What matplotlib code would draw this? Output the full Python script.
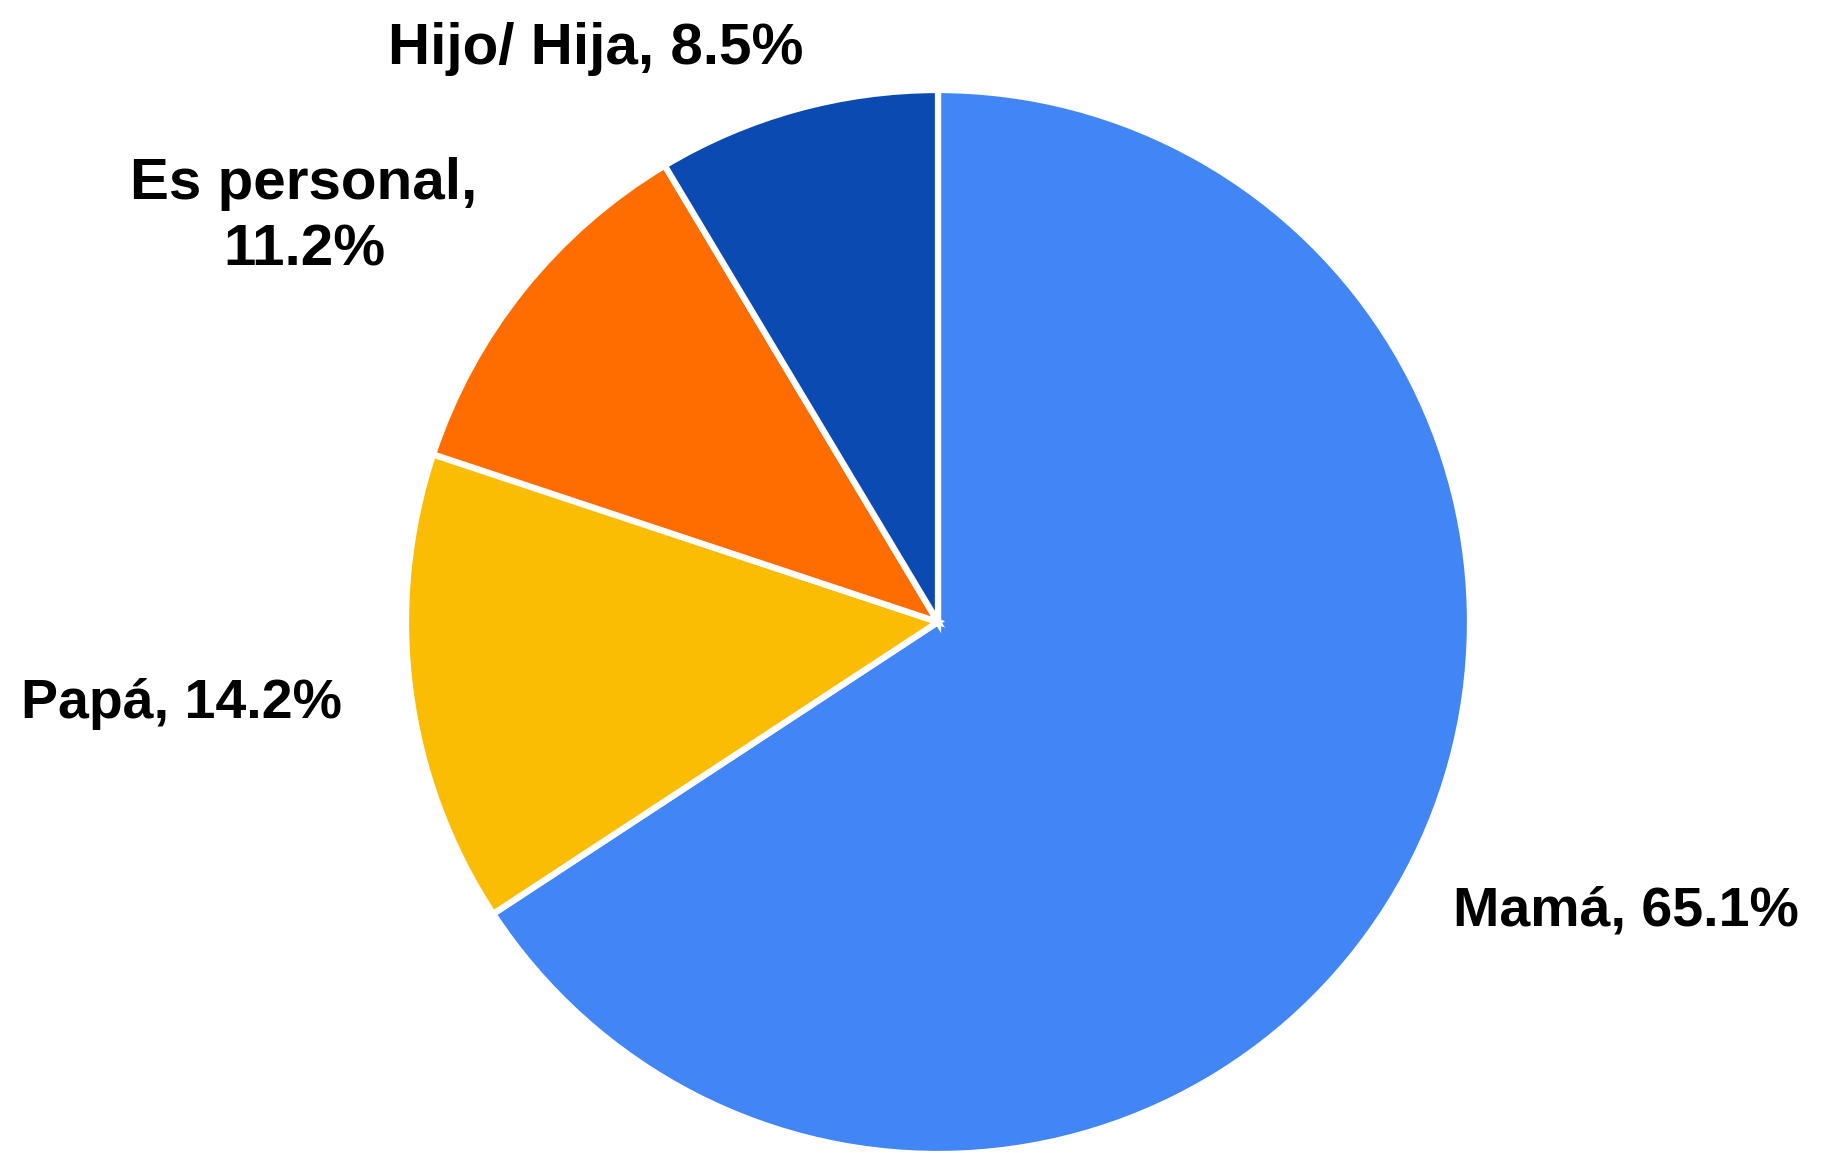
import matplotlib
matplotlib.use("Agg")
import matplotlib.pyplot as plt

# Chart data
categories = ["Mamá", "Papá", "Es personal", "Hijo/ Hija"]
values = [65.1, 14.2, 11.2, 8.5]
colors = ["#4285F4", "#FBBC04", "#FF6D01", "#0B4AB0"]

W, H = 1825, 1153
fig = plt.figure(figsize=(W / 100, H / 100), dpi=100)
ax = fig.add_axes([0, 0, 1, 1])

ax.pie(values, colors=colors, startangle=90, counterclock=False,
       center=(938, H - 622), radius=532, frame=True,
       wedgeprops=dict(edgecolor="white", linewidth=4.5))
ax.set_xlim(0, W)
ax.set_ylim(0, H)
ax.set_aspect("equal")
ax.axis("off")

normal = dict(fontsize=40, fontweight="bold", family=["Liberation Sans", "DejaVu Sans"],
              color="black", va="center")
narrow = dict(fontsize=42, fontweight="bold",
              family=["Liberation Sans Narrow", "Liberation Sans", "DejaVu Sans"],
              color="black", va="center", ha="center")

ax.text(1453, H - 912, f"{categories[0]}, {values[0]}%", ha="left", **normal)
ax.text(21, H - 704, f"{categories[1]}, {values[1]}%", ha="left", **normal)
ax.text(304, H - 217, f"{categories[2]},\n{values[2]}%", linespacing=1.3, **narrow)
ax.text(596, H - 49, f"{categories[3]}, {values[3]}%", **narrow)

fig.savefig("out.png", dpi=100, facecolor="white")
